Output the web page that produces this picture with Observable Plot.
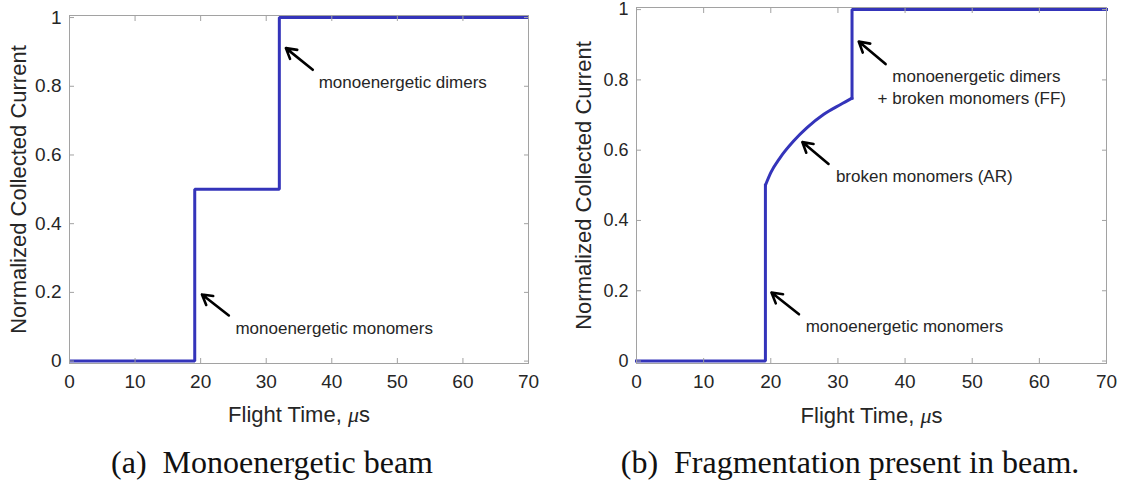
<!DOCTYPE html>
<html><head><meta charset="utf-8">
<script src="https://cdn.jsdelivr.net/npm/d3@7"></script>
<script src="https://cdn.jsdelivr.net/npm/@observablehq/plot@0.6"></script>
<style>
body{margin:0;background:#fff;}
#wrap{position:relative;width:1123px;height:484px;overflow:hidden;background:#fff;}
.panel{position:absolute;top:0;}
.cap{position:absolute;font-family:"Liberation Serif","Times New Roman",serif;font-size:32px;color:#111;white-space:pre;transform:translate(-50%,-50%);}
</style></head><body>
<div id="wrap"></div>
<script>
// ---- shared axis definitions ----
const xTicks = [0, 10, 20, 30, 40, 50, 60, 70];
const xTickLabels = ["0", "10", "20", "30", "40", "50", "60", "70"];
const yTicks = [0, 0.2, 0.4, 0.6, 0.8, 1];
const yTickLabels = ["0", "0.2", "0.4", "0.6", "0.8", "1"];
const xTitle = "Flight Time, μs";
const yTitle = "Normalized Collected Current";
const captions = ["(a)  Monoenergetic beam", "(b)  Fragmentation present in beam."];

// ---- panel (a): monoenergetic beam ----
const timeA = [0, 19.1, 32, 70];
const currentA = [0, 0.5, 1, 1];
const noteTextA = ["monoenergetic dimers", "monoenergetic monomers"];
const noteXA = [38.0, 25.3];
const noteYA = [0.812, 0.095];
const arrowTailXA = [37.1, 24.3];
const arrowTailYA = [0.848, 0.133];
const arrowHeadXA = [33.0, 20.2];
const arrowHeadYA = [0.911, 0.194];

// ---- panel (b): fragmentation present ----
// step up to the monomer level
const stepTimeB = [0, 19.2, 19.2];
const stepCurrentB = [0, 0, 0.5];
// broken monomers (AR) arc
const arcTimeB = [19.2, 20.0, 21.4, 23.4, 25.4, 27.9, 30.4, 32.1];
const arcCurrentB = [0.5, 0.536, 0.579, 0.626, 0.664, 0.702, 0.730, 0.748];
// dimer step and plateau
const topTimeB = [32.1, 32.1, 70];
const topCurrentB = [0.748, 1, 1];
const noteTextB = ["monoenergetic dimers", "+ broken monomers (FF)", "broken monomers (AR)", "monoenergetic monomers"];
const noteXB = [38.1, 35.9, 29.7, 25.2];
const noteYB = [0.810, 0.746, 0.526, 0.098];
const arrowTailXB = [37.1, 28.6, 24.2];
const arrowTailYB = [0.845, 0.561, 0.133];
const arrowHeadXB = [33.1, 24.7, 20.1];
const arrowHeadYB = [0.909, 0.623, 0.195];

const blue = "#3434ba";
const frameGray = "#a2a2a2";
const ink = "#262626";
const sans = "'Liberation Sans', Arial, sans-serif";

const zip = (xs, ys) => xs.map((t, i) => ({t, c: ys[i]}));

function makePanel(cfg) {
  const notes = cfg.noteText.map((s, i) => ({s, x: cfg.noteX[i], y: cfg.noteY[i]}));
  const arrows = cfg.tailX.map((x, i) => ({x1: x, y1: cfg.tailY[i], x2: cfg.headX[i], y2: cfg.headY[i]}));
  const lineMarks = cfg.pieces.map(p => Plot.line(p.data, {x: "t", y: "c", stroke: blue, strokeWidth: 3,
    curve: p.curve, strokeLinejoin: "miter", strokeLinecap: p.cap}));
  const svg = Plot.plot({
    width: cfg.width,
    height: 430,
    marginLeft: cfg.ml,
    marginRight: cfg.mr,
    marginTop: cfg.mt,
    marginBottom: cfg.mb,
    style: {fontFamily: sans, background: "white", overflow: "visible"},
    x: {domain: [0, 70]},
    y: {domain: [-0.007, 1.006]},
    marks: [
      ...lineMarks,
      Plot.frame({stroke: frameGray, strokeWidth: 1}),
      Plot.axisX({anchor: "bottom", ticks: xTicks, tickSize: -5, tickPadding: 16,
        tickFormat: d => xTickLabels[xTicks.indexOf(d)], stroke: frameGray, fill: ink, fontSize: 19, label: null}),
      Plot.axisX({anchor: "top", ticks: xTicks, tickSize: -5, stroke: frameGray, fill: "none", label: null}),
      Plot.axisY({anchor: "left", ticks: yTicks, tickSize: -5, tickPadding: 13,
        tickFormat: d => yTickLabels[yTicks.indexOf(d)], stroke: frameGray, fill: ink, fontSize: cfg.ytfs, label: null}),
      Plot.axisY({anchor: "right", ticks: yTicks, tickSize: -5, stroke: frameGray, fill: "none", label: null}),
      Plot.text([yTitle], {frameAnchor: "left", rotate: -90, dx: cfg.ytdx, text: d => d, fontSize: 22,
        fill: ink, lineAnchor: "middle", textAnchor: "middle"}),
      Plot.text([xTitle], {frameAnchor: "bottom", dy: cfg.xtdy, text: d => d, fontSize: 22,
        fill: ink, lineAnchor: "middle", textAnchor: "middle"}),
      Plot.arrow(arrows, {x1: "x1", y1: "y1", x2: "x2", y2: "y2", stroke: "#000", strokeWidth: 2.6,
        headLength: 10, headAngle: 60}),
      Plot.text(notes, {x: "x", y: "y", text: "s", textAnchor: "start", lineAnchor: "middle",
        fontSize: 17, fill: ink})
    ]
  });
  // italic mu in the x-axis title
  svg.querySelectorAll("text").forEach(t => {
    if (t.textContent === xTitle) {
      t.innerHTML = 'Flight Time, <tspan font-style="italic" font-family="Liberation Serif, serif">μ</tspan>s';
    }
  });
  svg.classList.add("panel");
  svg.style.left = cfg.left + "px";
  return svg;
}

const wrap = document.getElementById("wrap");
wrap.appendChild(makePanel({
  left: 0, width: 560, ml: 69, mr: 32, mt: 15, mb: 67, ytdx: -51, xtdy: 51, ytfs: 19,
  pieces: [{data: zip(timeA, currentA), curve: "step-after", cap: "butt"}],
  noteText: noteTextA, noteX: noteXA, noteY: noteYA,
  tailX: arrowTailXA, tailY: arrowTailYA, headX: arrowHeadXA, headY: arrowHeadYA
}));
wrap.appendChild(makePanel({
  left: 560, width: 563, ml: 76, mr: 17, mt: 7, mb: 67, ytdx: -53, xtdy: 52, ytfs: 18,
  pieces: [
    {data: zip(stepTimeB, stepCurrentB), curve: "linear", cap: "square"},
    {data: zip(arcTimeB, arcCurrentB), curve: "monotone-x", cap: "round"},
    {data: zip(topTimeB, topCurrentB), curve: "linear", cap: "square"}
  ],
  noteText: noteTextB, noteX: noteXB, noteY: noteYB,
  tailX: arrowTailXB, tailY: arrowTailYB, headX: arrowHeadXB, headY: arrowHeadYB
}));

const capPos = [[272, 462], [850, 462]];
captions.forEach((c, i) => {
  const d = document.createElement("div");
  d.className = "cap";
  d.textContent = c;
  d.style.left = capPos[i][0] + "px";
  d.style.top = capPos[i][1] + "px";
  wrap.appendChild(d);
});
</script>
</body></html>
